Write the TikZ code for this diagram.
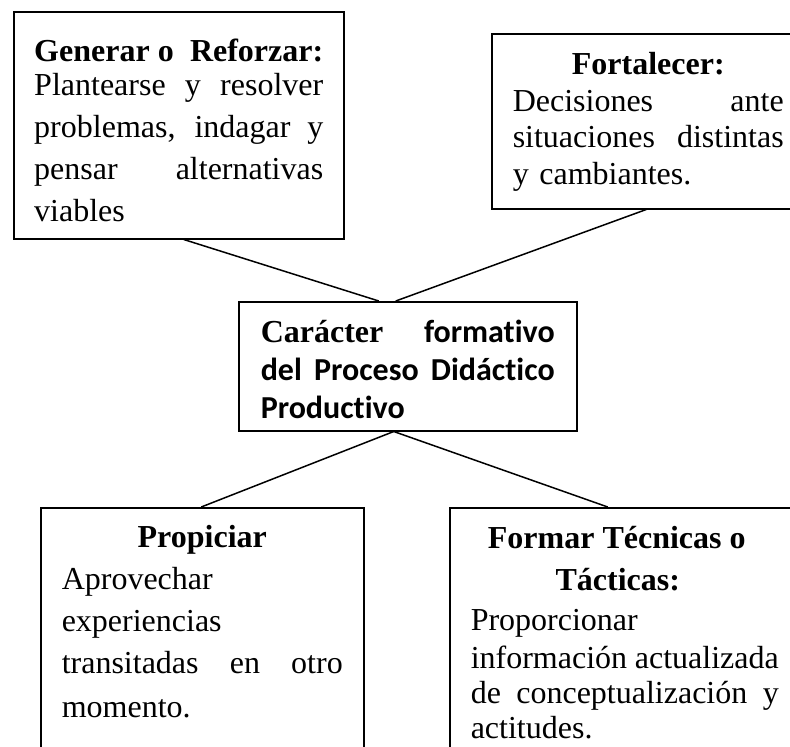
\documentclass[tikz,border=0pt]{standalone}
\usepackage{fontspec}
\setmainfont{Liberation Serif}
\newfontfamily\calibri[Ligatures = {NoCommon, NoRequired, NoContextual}]{Carlito}
\newcommand{\renglon}[1]{\leavevmode\hbox to\linewidth{\spaceskip = 0pt\xspaceskip = 0pt #1}}

\begin{document}
\begin{tikzpicture}[
  x = 1pt,
  y = -1pt,
  line width = 1.5pt,
  caja/.style = {
    draw,
    anchor = north west,
    inner ysep = 0pt,
    inner xsep = 21pt,
    align = left,
    font = \fontsize{32}{42}\selectfont
  }
]
  \useasboundingbox (0, 0) rectangle (790, 747);
  \clip (0, 0) rectangle (790, 747);

  \node[caja, inner xsep = 20.5pt, text width = 289pt, text height = 50pt, text depth = 177pt] (gen) at (13, 11) {%
    \renglon{\bfseries Generar\hskip 8pt o\hfil Reforzar:}\\[-8pt]
    \renglon{Plantearse y resolver}\\
    \renglon{problemas, indagar y}\\
    \renglon{pensar alternativas}\\
    viables};

  \node[caja, text width = 271pt, text height = 41pt, text depth = 134pt,
        font = \fontsize{32}{36.5}\selectfont] (fort) at (491, 33) {%
    \renglon{\hfil\bfseries Fortalecer:\hfil}\\
    \renglon{Decisiones ante}\\
    \renglon{situaciones distintas}\\
    y cambiantes.};

  \node[caja, inner xsep = 22pt, text width = 294pt, text height = 41pt, text depth = 88pt,
        font = \fontsize{32}{38}\selectfont\bfseries] (core) at (238, 301) {%
    \renglon{Carácter {\calibri formativo}}\\
    \renglon{\calibri del Proceso Didáctico}\\
    {\calibri Productivo}};

  \node[caja, text width = 281pt, text height = 40pt, text depth = 213pt] (prop) at (40, 507) {%
    \renglon{\hfil\bfseries Propiciar\hfil}\\
    Aprovechar\\
    experiencias\\
    \renglon{transitadas en otro}\\[2pt]
    momento.};

  \node[caja, text width = 308pt, text height = 41pt, text depth = 213pt] (tec) at (449, 507) {%
    \renglon{\hfil\bfseries Formar Técnicas o\hfil\hskip 16pt}\\
    \renglon{\hfil\bfseries Tácticas:\hfil\hskip 14pt}\\[-2pt]
    Proporcionar\\[-4pt]
    \renglon{información actualizada}\\[-7pt]
    \renglon{de conceptualización y}\\[-7pt]
    actitudes.};

  \draw ([xshift = 5pt]gen.south) -- ([xshift = -29pt]core.north);
  \draw ([xshift = -2pt]fort.south) -- ([xshift = -12pt]core.north);
  \draw ([xshift = -14pt]core.south) -- ([xshift = -1pt]prop.north);
  \draw ([xshift = -14pt]core.south) -- ([xshift = -17pt]tec.north);
\end{tikzpicture}
\end{document}
